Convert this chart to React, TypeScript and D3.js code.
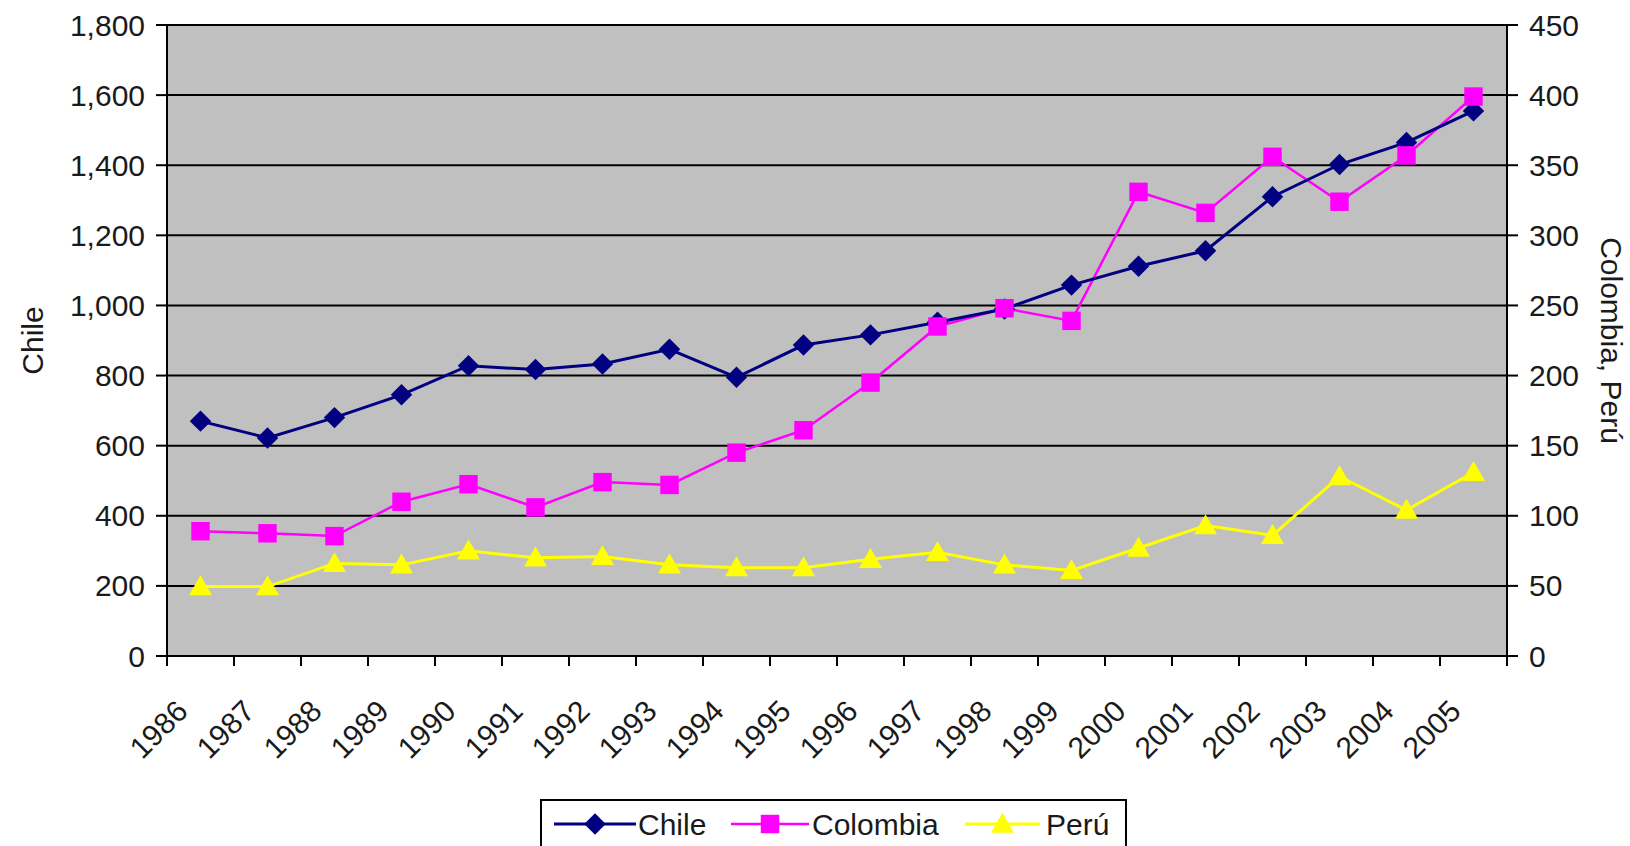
import React from "react";
import * as d3 from "d3";

// Annual series, 1986–2005
const years = [
  "1986", "1987", "1988", "1989", "1990", "1991", "1992", "1993", "1994", "1995",
  "1996", "1997", "1998", "1999", "2000", "2001", "2002", "2003", "2004", "2005",
];
// Chile is plotted against the left axis
const chile = [670, 622, 680, 745, 828, 817, 833, 875, 795, 887, 916, 952, 990, 1058, 1112, 1156, 1310, 1402, 1465, 1555];
// Colombia and Perú are plotted against the right axis
const colombia = [89, 87.5, 85.5, 110, 122.5, 106, 124, 122, 145, 161, 195, 235, 248, 239, 331, 316, 356, 324, 357, 399];
const peru = [49.5, 49.5, 66, 65, 75, 70, 71, 65, 63, 63, 69, 74, 65, 61, 77, 93, 86, 128, 104, 131];

const leftTicks = [0, 200, 400, 600, 800, 1000, 1200, 1400, 1600, 1800];
const rightTicks = [0, 50, 100, 150, 200, 250, 300, 350, 400, 450];

const leftTitle = "Chile";
const rightTitle = "Colombia, Perú";
const seriesNames = ["Chile", "Colombia", "Perú"];

const W = 1630;
const H = 846;
const plot = { left: 167, right: 1507, top: 25, bottom: 656 };
const FONT = "'Liberation Sans', Arial, sans-serif";
const FS = 30;
const TEXT = "#1a1a1a";

const C_CHILE = "#000080";
const C_COL = "#ff00ff";
const C_PERU = "#ffff00";

export default function App() {
  const x = d3.scaleBand<string>().domain(years).range([plot.left, plot.right]).padding(0);
  const cx = (y: string) => (x(y) ?? 0) + x.bandwidth() / 2;
  const yL = d3.scaleLinear().domain([0, 1800]).range([plot.bottom, plot.top]);
  const yR = d3.scaleLinear().domain([0, 450]).range([plot.bottom, plot.top]);

  const lineL = d3.line<number>().x((_, i) => cx(years[i])).y((d) => yL(d));
  const lineR = d3.line<number>().x((_, i) => cx(years[i])).y((d) => yR(d));

  const diamond = d3.symbol().type(d3.symbolSquare).size(230)()!;
  const square = d3.symbol().type(d3.symbolSquare).size(340)()!;
  const triangle = d3.symbol().type(d3.symbolTriangle).size(230)()!;

  const fmt = d3.format(",");
  const xTickPos = [...years.map((y) => x(y) ?? 0), plot.right];

  const marker = (kind: string, color: string, tx: number, ty: number, key: string) => {
    if (kind === "diamond")
      return <path key={key} d={diamond} fill={color} transform={`translate(${tx},${ty}) rotate(45)`} />;
    if (kind === "square")
      return <path key={key} d={square} fill={color} transform={`translate(${tx},${ty})`} />;
    return <path key={key} d={triangle} fill={color} transform={`translate(${tx},${ty + 2})`} />;
  };

  const legendItems = [
    { name: seriesNames[0], color: C_CHILE, kind: "diamond", x0: 554, x1: 636, tx: 638, w: 3 },
    { name: seriesNames[1], color: C_COL, kind: "square", x0: 731, x1: 809, tx: 812, w: 2.5 },
    { name: seriesNames[2], color: C_PERU, kind: "triangle", x0: 965, x1: 1040, tx: 1046, w: 3 },
  ];
  const legY = 824;

  return (
    <svg
      width={W}
      height={H}
      viewBox={`0 0 ${W} ${H}`}
      style={{ position: "absolute", left: 0, top: 0, background: "#fff" }}
      fontFamily={FONT}
    >
      {/* plot background */}
      <rect x={plot.left} y={plot.top} width={plot.right - plot.left} height={plot.bottom - plot.top} fill="#c0c0c0" />

      {/* horizontal gridlines */}
      {leftTicks.slice(1).map((t) => (
        <line key={`g${t}`} x1={plot.left} x2={plot.right} y1={yL(t)} y2={yL(t)} stroke="#000" strokeWidth={2} />
      ))}

      {/* axes */}
      <line x1={plot.left} x2={plot.left} y1={plot.top} y2={plot.bottom} stroke="#000" strokeWidth={2} />
      <line x1={plot.right} x2={plot.right} y1={plot.top} y2={plot.bottom} stroke="#000" strokeWidth={2} />
      <line x1={plot.left - 11} x2={plot.right + 11} y1={plot.bottom} y2={plot.bottom} stroke="#000" strokeWidth={2} />

      {/* left ticks + labels */}
      {leftTicks.map((t) => (
        <g key={`l${t}`}>
          <line x1={plot.left - 11} x2={plot.left} y1={yL(t)} y2={yL(t)} stroke="#000" strokeWidth={2} />
          <text x={145} y={yL(t)} dy="0.35em" textAnchor="end" fontSize={FS} fill={TEXT}>
            {fmt(t)}
          </text>
        </g>
      ))}

      {/* right ticks + labels */}
      {rightTicks.map((t) => (
        <g key={`r${t}`}>
          <line x1={plot.right} x2={plot.right + 11} y1={yR(t)} y2={yR(t)} stroke="#000" strokeWidth={2} />
          <text x={1529} y={yR(t)} dy="0.35em" textAnchor="start" fontSize={FS} fill={TEXT}>
            {t}
          </text>
        </g>
      ))}

      {/* x ticks */}
      {xTickPos.map((p, i) => (
        <line key={`xt${i}`} x1={p} x2={p} y1={plot.bottom} y2={plot.bottom + 10} stroke="#000" strokeWidth={2} />
      ))}

      {/* x labels */}
      {years.map((y) => (
        <text
          key={`xl${y}`}
          transform={`translate(${cx(y) - 11},${713}) rotate(-45)`}
          textAnchor="end"
          fontSize={FS}
          fill={TEXT}
        >
          {y}
        </text>
      ))}

      {/* axis titles */}
      <text transform={`translate(43,${(plot.top + plot.bottom) / 2}) rotate(-90)`} textAnchor="middle" fontSize={FS} fill={TEXT}>
        {leftTitle}
      </text>
      <text transform={`translate(1601,${(plot.top + plot.bottom) / 2}) rotate(90)`} textAnchor="middle" fontSize={FS} fill={TEXT}>
        {rightTitle}
      </text>

      {/* series lines */}
      <path d={lineR(peru)!} fill="none" stroke={C_PERU} strokeWidth={3} />
      <path d={lineR(colombia)!} fill="none" stroke={C_COL} strokeWidth={2.5} />
      <path d={lineL(chile)!} fill="none" stroke={C_CHILE} strokeWidth={3} />

      {/* markers */}
      {peru.map((v, i) => marker("triangle", C_PERU, cx(years[i]), yR(v), `p${i}`))}
      {chile.map((v, i) => marker("diamond", C_CHILE, cx(years[i]), yL(v), `c${i}`))}
      {colombia.map((v, i) => marker("square", C_COL, cx(years[i]), yR(v), `o${i}`))}

      {/* legend */}
      <rect x={541} y={800} width={585} height={80} fill="#fff" stroke="#000" strokeWidth={2} />
      {legendItems.map((it) => (
        <g key={it.name}>
          <line x1={it.x0} x2={it.x1} y1={legY} y2={legY} stroke={it.color} strokeWidth={it.w} />
          {marker(it.kind, it.color, (it.x0 + it.x1) / 2, legY, `lm${it.name}`)}
          <text x={it.tx} y={legY} dy="0.35em" fontSize={FS} fill={TEXT}>
            {it.name}
          </text>
        </g>
      ))}
    </svg>
  );
}
